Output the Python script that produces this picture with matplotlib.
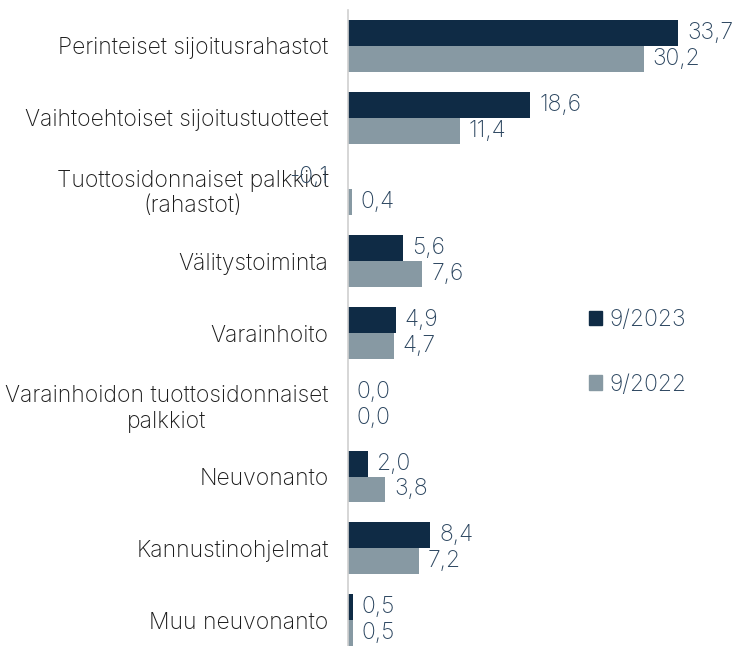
import matplotlib.pyplot as plt
import numpy as np
from matplotlib.patches import Patch

categories = [
    "Perinteiset sijoitusrahastot",
    "Vaihtoehtoiset sijoitustuotteet",
    "Tuottosidonnaiset palkkiot\n(rahastot)",
    "Välitystoiminta",
    "Varainhoito",
    "Varainhoidon tuottosidonnaiset\npalkkiot",
    "Neuvonanto",
    "Kannustinohjelmat",
    "Muu neuvonanto",
]
values_2023 = [33.7, 18.6, -0.1, 5.6, 4.9, 0.0, 2.0, 8.4, 0.5]
values_2022 = [30.2, 11.4, 0.4, 7.6, 4.7, 0.0, 3.8, 7.2, 0.5]
series_labels = ["9/2023", "9/2022"]

DARK = "#0f2b45"
GREY = "#8799a3"
TEXT = "#2c4660"
FS = 16.5

plt.rcParams["font.family"] = ["Inter", "DejaVu Sans"]
plt.rcParams["font.weight"] = "light"

fig = plt.figure(figsize=(7.33, 6.46), dpi=100)
ax = fig.add_axes([348 / 733, -10 / 646, 385 / 733, 646 / 646])

y = np.arange(len(categories))
h = 0.36
ax.barh(y - h / 2, values_2023, height=h, color=DARK)
ax.barh(y + h / 2, values_2022, height=h, color=GREY)

def fmt(v):
    return f"{v:.1f}".replace(".", ",")

# value labels, negative ones go left of the axis
for i, (a, b) in enumerate(zip(values_2023, values_2022)):
    for v, yy in ((a, y[i] - h / 2), (b, y[i] + h / 2)):
        if v < 0:
            ax.text(v - 1.9, yy, fmt(v), ha="right", va="center",
                    fontsize=FS, color=TEXT)
        else:
            ax.text(v + 0.9, yy, fmt(v), ha="left", va="center",
                    fontsize=FS, color=TEXT)

ax.set_xlim(0, 39.3)
ax.set_ylim(len(categories) - 0.5, -0.5)
ax.set_yticks(y)
ax.set_yticklabels(categories, fontsize=FS, color="#1a1a1a", multialignment="center")
ax.tick_params(axis="y", length=0, pad=14)
ax.set_xticks([])
for s in ["top", "right", "bottom"]:
    ax.spines[s].set_visible(False)
ax.spines["left"].set_color("#d0d0d0")
ax.spines["left"].set_linewidth(1.2)

handles = [Patch(color=DARK), Patch(color=GREY)]
leg = ax.legend(handles, series_labels, loc="center left",
                bbox_to_anchor=(220 / 385, 0.47), frameon=False,
                fontsize=FS, handlelength=0.6, handleheight=0.6,
                handletextpad=0.3, labelspacing=1.85)
for t in leg.get_texts():
    t.set_color(TEXT)

fig.savefig("out.png", dpi=100)
